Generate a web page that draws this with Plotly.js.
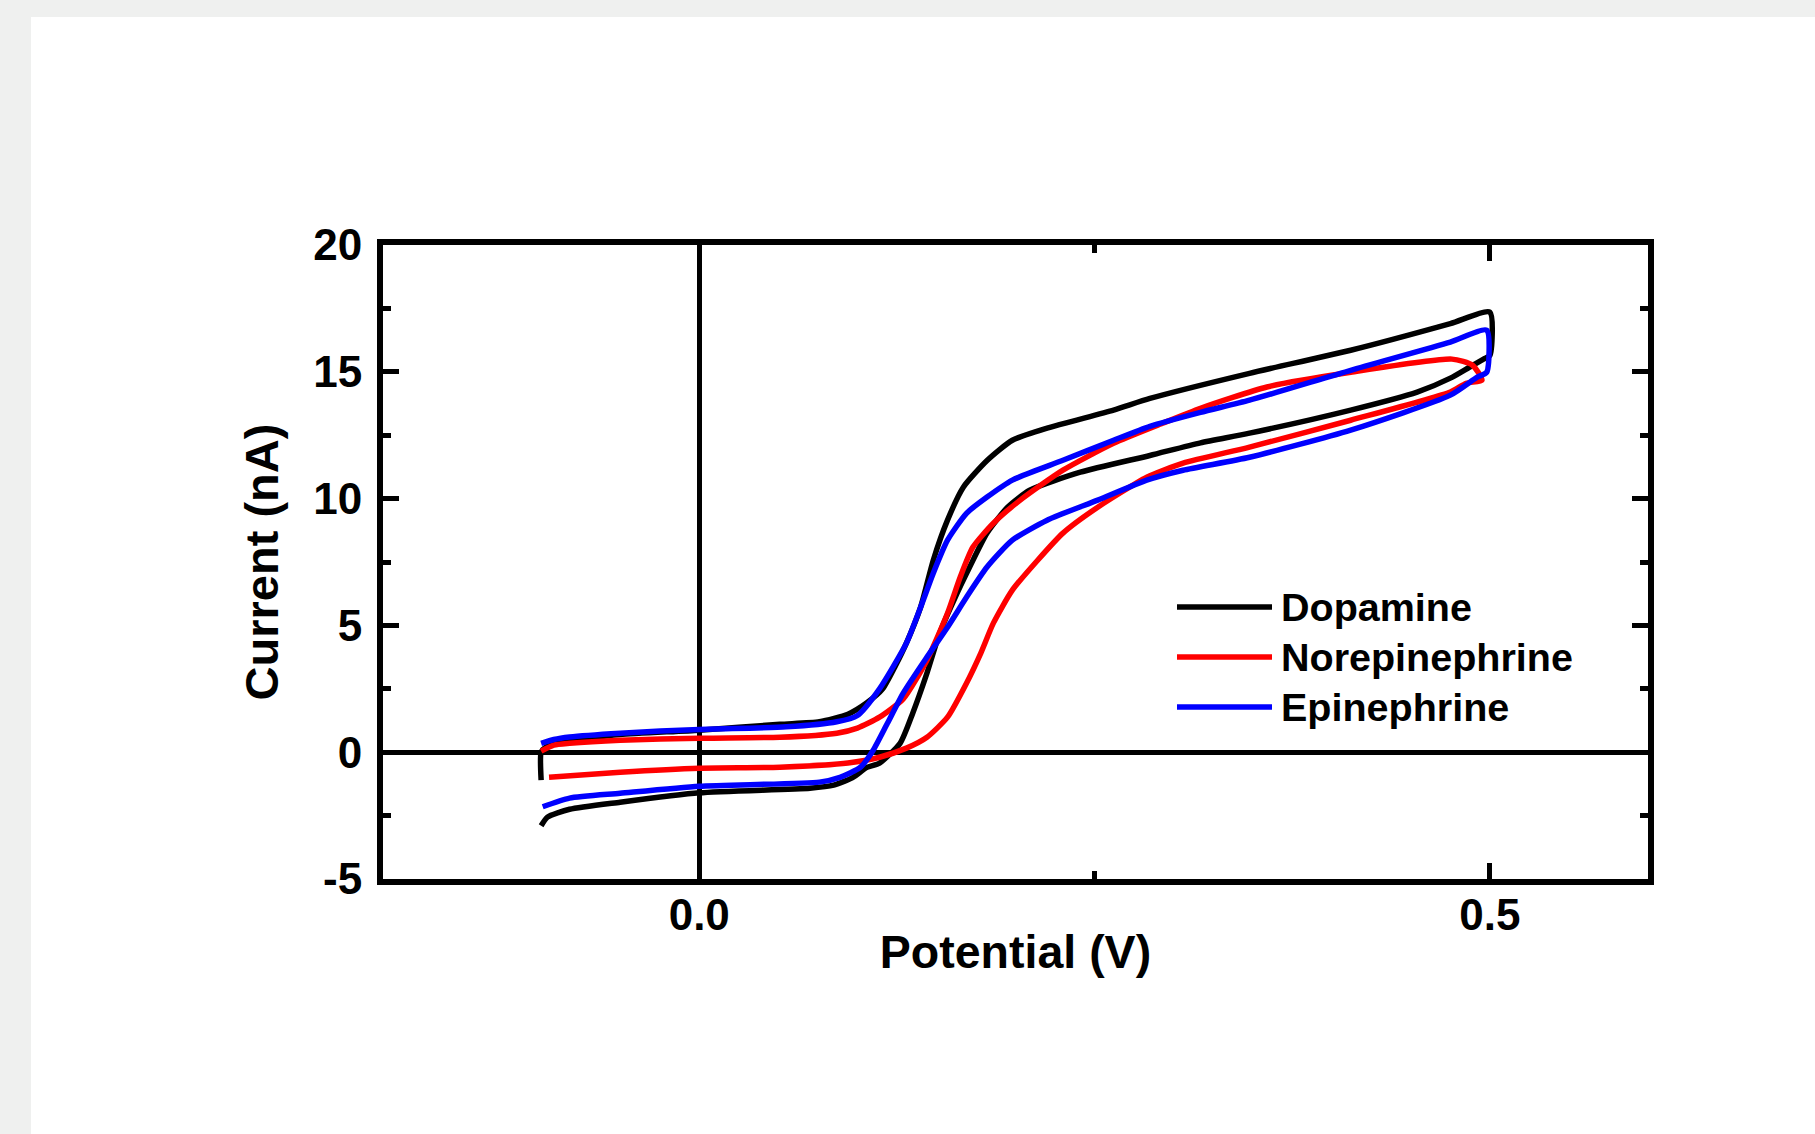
<!DOCTYPE html>
<html>
<head>
<meta charset="utf-8">
<script src="https://cdn.plot.ly/plotly-3.0.1.min.js"></script>
<style>
  html, body { margin: 0; padding: 0; background: #eff0ef; width: 1815px; height: 1134px; overflow: hidden; }
  #chart { position: absolute; left: 31px; top: 17px; width: 1784px; height: 1117px; background: #ffffff; }
</style>
</head>
<body>
<div id="chart"></div>
<script>
// ---- Data (Potential in V, Current in nA) ----
const dopamineV = [-0.1, -0.1, -0.097, -0.082, -0.071, -0.05, 0.0, 0.051, 0.076, 0.094, 0.106, 0.116, 0.124, 0.131, 0.140, 0.148, 0.157, 0.167, 0.182, 0.198, 0.22, 0.262, 0.285, 0.348, 0.412, 0.475, 0.5, 0.5, 0.496, 0.487, 0.475, 0.454, 0.412, 0.348, 0.317, 0.285, 0.241, 0.209, 0.195, 0.182, 0.171, 0.161, 0.152, 0.144, 0.135, 0.127, 0.114, 0.106, 0.097, 0.085, 0.07, 0.0, -0.05, -0.082, -0.096, -0.1];
const dopamineI = [-1.1, 0.0, 0.2, 0.45, 0.55, 0.7, 0.87, 1.1, 1.2, 1.5, 1.95, 2.5, 3.4, 4.3, 5.72, 7.57, 9.15, 10.45, 11.5, 12.3, 12.78, 13.49, 13.95, 14.94, 15.85, 16.9, 17.35, 15.65, 15.5, 15.18, 14.75, 14.2, 13.49, 12.58, 12.2, 11.7, 11.04, 10.33, 9.66, 8.64, 7.3, 5.99, 4.69, 3.12, 1.54, 0.35, -0.43, -0.6, -1.0, -1.3, -1.42, -1.6, -1.97, -2.25, -2.56, -2.9];

const norepiV = [-0.1, -0.092, -0.082, -0.05, 0.0, 0.051, 0.087, 0.1, 0.114, 0.129, 0.144, 0.157, 0.165, 0.173, 0.186, 0.203, 0.23, 0.262, 0.293, 0.317, 0.359, 0.412, 0.476, 0.489, 0.495, 0.485, 0.475, 0.412, 0.348, 0.306, 0.283, 0.252, 0.23, 0.214, 0.198, 0.186, 0.178, 0.169, 0.157, 0.144, 0.131, 0.114, 0.094, 0.051, 0.0, -0.05, -0.095];
const norepiI = [0.04, 0.28, 0.35, 0.47, 0.55, 0.59, 0.75, 0.95, 1.38, 2.1, 3.63, 5.48, 6.9, 8.08, 9.03, 9.94, 11.12, 12.18, 12.97, 13.56, 14.4, 14.98, 15.5, 15.26, 14.67, 14.55, 14.2, 13.09, 12.03, 11.4, 10.84, 9.66, 8.64, 7.57, 6.39, 5.09, 3.9, 2.72, 1.38, 0.59, 0.16, -0.2, -0.43, -0.59, -0.63, -0.79, -0.99];

const epiV = [-0.1, -0.092, -0.082, -0.05, 0.0, 0.055, 0.087, 0.1, 0.114, 0.131, 0.14, 0.148, 0.157, 0.169, 0.182, 0.198, 0.23, 0.262, 0.285, 0.317, 0.348, 0.412, 0.475, 0.498, 0.498, 0.492, 0.475, 0.412, 0.348, 0.306, 0.283, 0.252, 0.22, 0.198, 0.182, 0.169, 0.157, 0.144, 0.129, 0.119, 0.11, 0.102, 0.089, 0.076, 0.0, -0.05, -0.082, -0.099];
const epiI = [0.35, 0.5, 0.6, 0.75, 0.9, 1.0, 1.2, 1.45, 2.5, 4.3, 5.72, 7.06, 8.36, 9.42, 10.06, 10.73, 11.51, 12.3, 12.85, 13.4, 13.88, 15.06, 16.17, 16.64, 14.98, 14.79, 14.08, 12.7, 11.63, 11.12, 10.73, 9.94, 9.15, 8.36, 7.3, 6.11, 4.93, 3.75, 2.33, 1.14, 0.08, -0.59, -0.99, -1.18, -1.34, -1.62, -1.81, -2.15];

const seriesNames = ['Dopamine', 'Norepinephrine', 'Epinephrine'];
const seriesColors = ['#000000', '#ff0000', '#0000ff'];

const xTickVals = [0, 0.5];
const xTickText = ['0.0', '0.5'];
const xMinorVals = [-0.25, 0.25];
const yTickVals = [-5, 0, 5, 10, 15, 20];
const yTickText = ['-5', '0', '5', '10', '15', '20'];
const yMinorVals = [-2.5, 2.5, 7.5, 12.5, 17.5];

// ---- Layout geometry (px) ----
const W = 1784, H = 1117;
const M = { l: 352, r: 167, t: 228, b: 255 };
const plotW = W - M.l - M.r, plotH = H - M.t - M.b;
const px2paperX = px => (px - M.l) / plotW;
const px2paperY = py => (H - M.b - py) / plotH;

const FONT = 'Liberation Sans, Arial, Helvetica, sans-serif';

const xs = [dopamineV, norepiV, epiV];
const ys = [dopamineI, norepiI, epiI];
const traces = seriesNames.map((n, i) => ({
  type: 'scatter', mode: 'lines', name: n,
  x: xs[i], y: ys[i],
  line: { color: seriesColors[i], width: 5.5, shape: 'spline', smoothing: 0.6 },
  showlegend: false, hoverinfo: 'skip'
}));

// custom legend (long line samples as in reference)
const legLineX0 = 1146, legLineX1 = 1241, legTextX = 1248;
const legRows = [590, 640, 690];
const shapes = [], annotations = [];
seriesNames.forEach((n, i) => {
  shapes.push({ type: 'line', xref: 'paper', yref: 'paper',
    x0: px2paperX(legLineX0), x1: px2paperX(legLineX1),
    y0: px2paperY(legRows[i]), y1: px2paperY(legRows[i]),
    line: { color: seriesColors[i], width: 5.5 } });
  annotations.push({ xref: 'paper', yref: 'paper', x: px2paperX(legTextX), y: px2paperY(legRows[i]),
    xanchor: 'left', yanchor: 'middle', showarrow: false, text: n,
    font: { family: FONT, size: 39.5, color: '#000', weight: 'bold' } });
});

const axisCommon = {
  showline: true, linecolor: '#000', linewidth: 6, mirror: 'allticks',
  ticks: 'inside', tickcolor: '#000', tickwidth: 5, ticklen: 16,
  showgrid: false, zeroline: true, zerolinecolor: '#000', zerolinewidth: 5,
  tickfont: { family: FONT, size: 44, color: '#000', weight: 'bold' },
  tickmode: 'array', fixedrange: true
};

const layout = {
  width: W, height: H,
  margin: M,
  paper_bgcolor: '#ffffff', plot_bgcolor: '#ffffff',
  showlegend: false,
  xaxis: Object.assign({}, axisCommon, {
    range: [-0.2, 0.6], tickvals: xTickVals, ticktext: xTickText,
    minor: { tickmode: 'array', tickvals: xMinorVals, ticks: 'inside', ticklen: 8, tickwidth: 5, tickcolor: '#000' },
    ticklabelstandoff: -8,
    title: { text: 'Potential (V)', standoff: 0, font: { family: FONT, size: 46.5, color: '#000', weight: 'bold' } }
  }),
  yaxis: Object.assign({}, axisCommon, {
    range: [-5, 20], tickvals: yTickVals, ticktext: yTickText,
    minor: { tickmode: 'array', tickvals: yMinorVals, ticks: 'inside', ticklen: 8, tickwidth: 5, tickcolor: '#000' },
    ticklabelstandoff: 6,
    title: { text: 'Current (nA)', standoff: 22, font: { family: FONT, size: 47, color: '#000', weight: 'bold' } }
  }),
  shapes: shapes,
  annotations: annotations
};

Plotly.newPlot('chart', traces, layout, { displayModeBar: false, staticPlot: true });
</script>
</body>
</html>
